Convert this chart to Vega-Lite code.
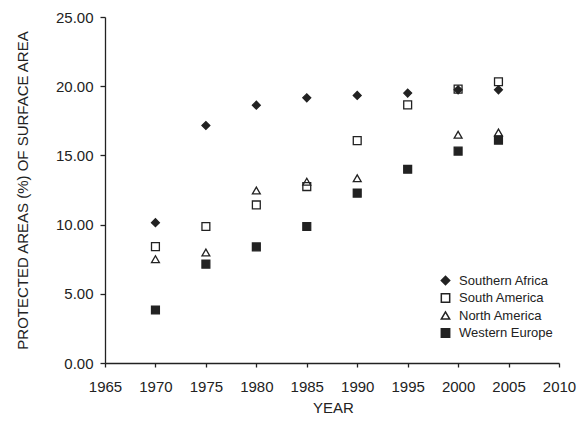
{
  "$schema": "https://vega.github.io/schema/vega-lite/v6.json",
  "autosize": "none",
  "padding": {"left": 105, "top": 17, "right": 27, "bottom": 61},
  "width": 454,
  "height": 346,
  "background": "white",
  "config": {
    "view": {"stroke": null},
    "font": "Liberation Sans",
    "axis": {"grid": false, "domainColor": "#222", "tickColor": "#222", "labelColor": "#222", "titleColor": "#222", "labelFont": "Liberation Sans", "titleFont": "Liberation Sans", "labelFontSize": 15, "titleFontSize": 15, "titleFontWeight": "normal", "domainWidth": 1.3, "tickWidth": 1.3}
  },
  "data": {
    "values": [
      {"year": 1970, "region": "South America", "value": 8.41},
      {"year": 1975, "region": "South America", "value": 9.86},
      {"year": 1980, "region": "South America", "value": 11.42},
      {"year": 1985, "region": "South America", "value": 12.75},
      {"year": 1990, "region": "South America", "value": 16.07},
      {"year": 1995, "region": "South America", "value": 18.65},
      {"year": 2000, "region": "South America", "value": 19.79},
      {"year": 2004, "region": "South America", "value": 20.32},
      {"year": 1970, "region": "North America", "value": 7.5},
      {"year": 1975, "region": "North America", "value": 7.98},
      {"year": 1980, "region": "North America", "value": 12.46},
      {"year": 1985, "region": "North America", "value": 13.1},
      {"year": 1990, "region": "North America", "value": 13.35},
      {"year": 2000, "region": "North America", "value": 16.49},
      {"year": 2004, "region": "North America", "value": 16.65},
      {"year": 1970, "region": "Western Europe", "value": 3.83},
      {"year": 1975, "region": "Western Europe", "value": 7.14},
      {"year": 1980, "region": "Western Europe", "value": 8.39},
      {"year": 1985, "region": "Western Europe", "value": 9.86},
      {"year": 1990, "region": "Western Europe", "value": 12.27},
      {"year": 1995, "region": "Western Europe", "value": 14.0},
      {"year": 2000, "region": "Western Europe", "value": 15.31},
      {"year": 2004, "region": "Western Europe", "value": 16.1},
      {"year": 1970, "region": "Southern Africa", "value": 10.14},
      {"year": 1975, "region": "Southern Africa", "value": 17.16},
      {"year": 1980, "region": "Southern Africa", "value": 18.63},
      {"year": 1985, "region": "Southern Africa", "value": 19.16},
      {"year": 1990, "region": "Southern Africa", "value": 19.33},
      {"year": 1995, "region": "Southern Africa", "value": 19.5},
      {"year": 2000, "region": "Southern Africa", "value": 19.74},
      {"year": 2004, "region": "Southern Africa", "value": 19.74}
    ]
  },
  "mark": {"type": "point", "filled": true, "stroke": "#222", "strokeWidth": 1.3, "opacity": 1, "size": 62},
  "encoding": {
    "x": {
      "field": "year", "type": "quantitative", "title": "YEAR",
      "scale": {"domain": [1965, 2010], "nice": false, "zero": false},
      "axis": {"values": [1965, 1970, 1975, 1980, 1985, 1990, 1995, 2000, 2005, 2010], "format": "d", "tickSize": 4, "labelPadding": 12, "titleX": 228, "titleY": 49, "titleBaseline": "alphabetic", "labelFlush": false, "labelOverlap": false}
    },
    "y": {
      "field": "value", "type": "quantitative", "title": "PROTECTED AREAS (%) OF SURFACE AREA",
      "scale": {"domain": [0, 25], "nice": false},
      "axis": {"values": [0, 5, 10, 15, 20, 25], "format": ".2f", "tickSize": 5, "labelPadding": 7, "titleX": -78, "titleY": 173, "titleBaseline": "alphabetic", "titleAngle": -90, "titleAlign": "center", "labelFlush": false, "labelOverlap": false}
    },
    "shape": {
      "field": "region", "type": "nominal", "title": null,
      "scale": {"domain": ["Southern Africa", "South America", "North America", "Western Europe"], "range": ["diamond", "square", "triangle-up", "square"]},
      "legend": {"orient": "none", "legendX": 334, "legendY": 257, "padding": 0, "symbolSize": 70, "labelFontSize": 13, "labelFont": "Liberation Sans", "labelColor": "#222", "labelOffset": 7, "rowPadding": 2.5,
        "encode": {"symbols": {"update": {"stroke": {"value": "#222"}, "strokeWidth": {"value": 1.3}}}}}
    },
    "fill": {
      "field": "region", "type": "nominal", "title": null,
      "scale": {"domain": ["Southern Africa", "South America", "North America", "Western Europe"], "range": ["#222", "transparent", "transparent", "#222"]},
      "legend": {"orient": "none", "legendX": 334, "legendY": 257, "padding": 0, "symbolSize": 70, "labelFontSize": 13, "labelFont": "Liberation Sans", "labelColor": "#222", "labelOffset": 7, "rowPadding": 2.5,
        "encode": {"symbols": {"update": {"stroke": {"value": "#222"}, "strokeWidth": {"value": 1.3}}}}}
    }
  }
}
